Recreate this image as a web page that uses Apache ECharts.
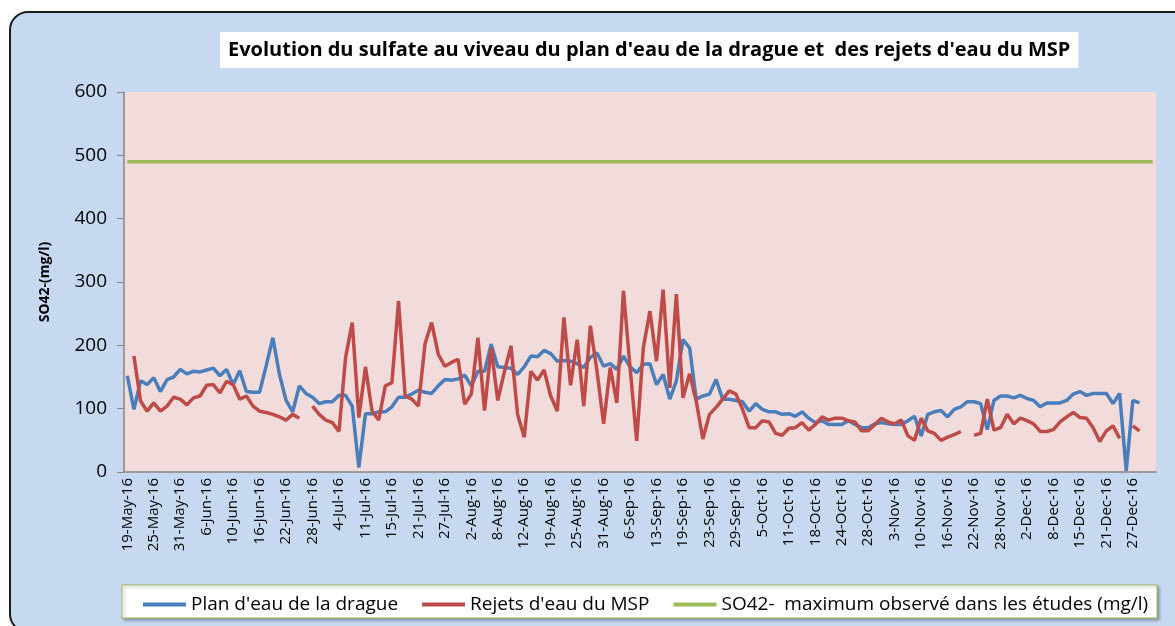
<!DOCTYPE html>
<html>
<head>
<meta charset="utf-8">
<script src="https://cdn.jsdelivr.net/npm/echarts@6/dist/echarts.min.js"></script>
<style>
  html, body { margin: 0; padding: 0; background: #fff; }
  #chart { width: 1175px; height: 626px; }
</style>
</head>
<body>
<div id="chart"></div>
<script>
// sampling dates (weekdays), a label is shown every 4th category
var dates = [
  '19-May-16', '20-May-16', '23-May-16', '24-May-16',
  '25-May-16', '26-May-16', '27-May-16', '30-May-16',
  '31-May-16', '1-Jun-16', '2-Jun-16', '3-Jun-16',
  '6-Jun-16', '7-Jun-16', '8-Jun-16', '9-Jun-16',
  '10-Jun-16', '13-Jun-16', '14-Jun-16', '15-Jun-16',
  '16-Jun-16', '17-Jun-16', '20-Jun-16', '21-Jun-16',
  '22-Jun-16', '23-Jun-16', '24-Jun-16', '27-Jun-16',
  '28-Jun-16', '29-Jun-16', '30-Jun-16', '1-Jul-16',
  '4-Jul-16', '6-Jul-16', '7-Jul-16', '8-Jul-16',
  '11-Jul-16', '12-Jul-16', '13-Jul-16', '14-Jul-16',
  '15-Jul-16', '18-Jul-16', '19-Jul-16', '20-Jul-16',
  '21-Jul-16', '22-Jul-16', '25-Jul-16', '26-Jul-16',
  '27-Jul-16', '28-Jul-16', '29-Jul-16', '1-Aug-16',
  '2-Aug-16', '3-Aug-16', '4-Aug-16', '5-Aug-16',
  '8-Aug-16', '9-Aug-16', '10-Aug-16', '11-Aug-16',
  '12-Aug-16', '16-Aug-16', '17-Aug-16', '18-Aug-16',
  '19-Aug-16', '22-Aug-16', '23-Aug-16', '24-Aug-16',
  '25-Aug-16', '26-Aug-16', '29-Aug-16', '30-Aug-16',
  '31-Aug-16', '1-Sep-16', '2-Sep-16', '5-Sep-16',
  '6-Sep-16', '7-Sep-16', '8-Sep-16', '9-Sep-16',
  '13-Sep-16', '14-Sep-16', '15-Sep-16', '16-Sep-16',
  '19-Sep-16', '20-Sep-16', '21-Sep-16', '22-Sep-16',
  '23-Sep-16', '26-Sep-16', '27-Sep-16', '28-Sep-16',
  '29-Sep-16', '30-Sep-16', '3-Oct-16', '4-Oct-16',
  '5-Oct-16', '6-Oct-16', '7-Oct-16', '10-Oct-16',
  '11-Oct-16', '12-Oct-16', '13-Oct-16', '17-Oct-16',
  '18-Oct-16', '19-Oct-16', '20-Oct-16', '21-Oct-16',
  '24-Oct-16', '25-Oct-16', '26-Oct-16', '27-Oct-16',
  '28-Oct-16', '31-Oct-16', '1-Nov-16', '2-Nov-16',
  '3-Nov-16', '4-Nov-16', '7-Nov-16', '9-Nov-16',
  '10-Nov-16', '11-Nov-16', '14-Nov-16', '15-Nov-16',
  '16-Nov-16', '17-Nov-16', '18-Nov-16', '21-Nov-16',
  '22-Nov-16', '23-Nov-16', '24-Nov-16', '25-Nov-16',
  '28-Nov-16', '29-Nov-16', '30-Nov-16', '1-Dec-16',
  '2-Dec-16', '5-Dec-16', '6-Dec-16', '7-Dec-16',
  '8-Dec-16', '9-Dec-16', '13-Dec-16', '14-Dec-16',
  '15-Dec-16', '16-Dec-16', '19-Dec-16', '20-Dec-16',
  '21-Dec-16', '22-Dec-16', '23-Dec-16', '26-Dec-16',
  '27-Dec-16', '28-Dec-16', '29-Dec-16', '30-Dec-16'
];

// Plan d'eau de la drague (mg/l)
var planEau = [
  152, 99, 144, 138, 149, 127, 146, 150, 162, 155,
  159, 158, 161, 164, 152, 162, 138, 160, 127, 126,
  126, 168, 212, 154, 113, 95, 136, 124, 118, 108,
  111, 111, 121, 121, 104, 7, 92, 92, 95, 95,
  103, 118, 118, 123, 129, 126, 124, 136, 146, 145,
  147, 153, 136, 159, 159, 202, 166, 165, 164, 154,
  166, 183, 182, 192, 187, 175, 176, 175, 171, 165,
  181, 188, 167, 171, 162, 183, 166, 157, 170, 171,
  138, 154, 115, 144, 209, 196, 115, 120, 123, 146,
  115, 115, 113, 111, 96, 108, 99, 95, 95, 91,
  92, 88, 95, 85, 78, 81, 75, 75, 75, 81,
  75, 70, 70, 76, 78, 76, 75, 75, 81, 88,
  57, 91, 95, 97, 87, 99, 103, 111, 111, 108,
  67, 113, 120, 120, 117, 121, 116, 113, 103, 109,
  109, 109, 113, 123, 127, 121, 124, 124, 124, 108,
  124, 2, 113, 109, null, null
];

// Rejets d'eau du MSP (mg/l)
var rejetsMsp = [
  null, 183, 112, 96, 109, 96, 104, 118, 115, 106,
  117, 120, 137, 138, 125, 143, 138, 115, 120, 104,
  96, 94, 91, 87, 82, 91, 85, null, 104, 91,
  82, 78, 64, 181, 236, 86, 166, 96, 82, 136,
  141, 270, 120, 115, 104, 202, 236, 186, 167, 173,
  178, 107, 123, 212, 97, 196, 113, 158, 199, 91,
  55, 159, 145, 161, 120, 96, 244, 137, 209, 104,
  231, 159, 76, 165, 109, 286, 165, 49, 196, 254,
  175, 288, 133, 281, 117, 155, 112, 52, 91, 102,
  115, 128, 123, 99, 70, 70, 81, 79, 61, 58,
  69, 70, 78, 66, 75, 87, 82, 85, 85, 81,
  79, 65, 65, 75, 85, 79, 76, 82, 57, 50,
  85, 65, 61, 50, 55, 59, 64, null, 58, 61,
  115, 66, 70, 91, 76, 85, 81, 76, 64, 64,
  67, 79, 87, 94, 86, 85, 70, 48, 65, 73,
  53, null, 73, 65, null, null
];

// SO42- maximum observé dans les études (mg/l)
var so4Max = 490;

var yTicks = { min: 0, max: 600, step: 100 };

var font = '"Open Sans", Lato, sans-serif';

function init_chart() {
    var chart = echarts.init(document.getElementById('chart'), null, { renderer: 'canvas' });
    var option = {
        backgroundColor: '#ffffff',
        animation: false,
        textStyle: { fontFamily: font },
        graphic: [
            {
                type: 'rect',
                z: -100,
                shape: { x: 10, y: 12, width: 1200, height: 620, r: 18 },
                style: { fill: '#C6D9F0', stroke: '#1c1c1c', lineWidth: 2 }
            },
            {
                type: 'rect',
                z: -50,
                shape: { x: 122, y: 585, width: 1035, height: 33 },
                style: {
                    fill: '#ffffff', stroke: '#9BBB59', lineWidth: 1,
                    shadowBlur: 3, shadowOffsetX: 2, shadowOffsetY: 2,
                    shadowColor: 'rgba(0,0,0,0.3)'
                }
            }
        ],
        title: {
            text: "Evolution du sulfate au viveau du plan d'eau de la drague et  des rejets d'eau du MSP",
            left: 220,
            top: 32,
            padding: [8, 8],
            backgroundColor: '#ffffff',
            textStyle: {
                fontFamily: font,
                fontSize: 20,
                fontWeight: 'bold',
                color: '#000'
            }
        },
        legend: {
            left: 138,
            top: 590,
            icon: 'rect',
            itemWidth: 43,
            itemHeight: 4,
            itemGap: 24,
            textStyle: { fontFamily: font, fontSize: 19, color: '#000' },
            data: ["Plan d'eau de la drague", "Rejets d'eau du MSP", 'SO42-  maximum observé dans les études (mg/l)']
        },
        grid: {
            left: 124,
            right: 19,
            top: 92,
            bottom: 154,
            show: true,
            backgroundColor: '#F2DCDB',
            borderWidth: 0,
            outerBoundsMode: 'none'
        },
        xAxis: {
            type: 'category',
            data: dates,
            boundaryGap: true,
            axisLine: { lineStyle: { color: '#868686', width: 1.5 } },
            axisTick: { interval: 0, length: 5, lineStyle: { color: '#868686' } },
            axisLabel: {
                interval: 3,
                rotate: 90,
                margin: 6,
                fontFamily: font,
                fontSize: 15,
                color: '#000'
            },
            splitLine: { show: false }
        },
        yAxis: {
            type: 'value',
            min: yTicks.min,
            max: yTicks.max,
            interval: yTicks.step,
            name: 'SO42-(mg/l)',
            nameLocation: 'middle',
            nameGap: 72,
            nameTextStyle: { fontFamily: font, fontSize: 14, fontWeight: 'bold', color: '#000' },
            axisLine: { show: true, lineStyle: { color: '#868686', width: 1.5 } },
            axisTick: { show: true, length: 7, lineStyle: { color: '#868686' } },
            axisLabel: { fontFamily: font, fontSize: 19, margin: 17, color: '#000' },
            splitLine: { show: false }
        },
        series: [
            {
                name: "Plan d'eau de la drague",
                type: 'line',
                data: planEau,
                symbol: 'none',
                connectNulls: false,
                color: '#4A7EBB',
                lineStyle: { width: 3.5, color: '#4A7EBB' }
            },
            {
                name: "Rejets d'eau du MSP",
                type: 'line',
                data: rejetsMsp,
                symbol: 'none',
                connectNulls: false,
                color: '#BE4B48',
                lineStyle: { width: 3.5, color: '#BE4B48' }
            },
            {
                name: 'SO42-  maximum observé dans les études (mg/l)',
                type: 'line',
                data: dates.map(function () { return so4Max; }),
                symbol: 'none',
                color: '#9BBB59',
                lineStyle: { width: 3.5, color: '#9BBB59' }
            }
        ]
    };
    chart.setOption(option);
}

init_chart();
</script>
</body>
</html>
